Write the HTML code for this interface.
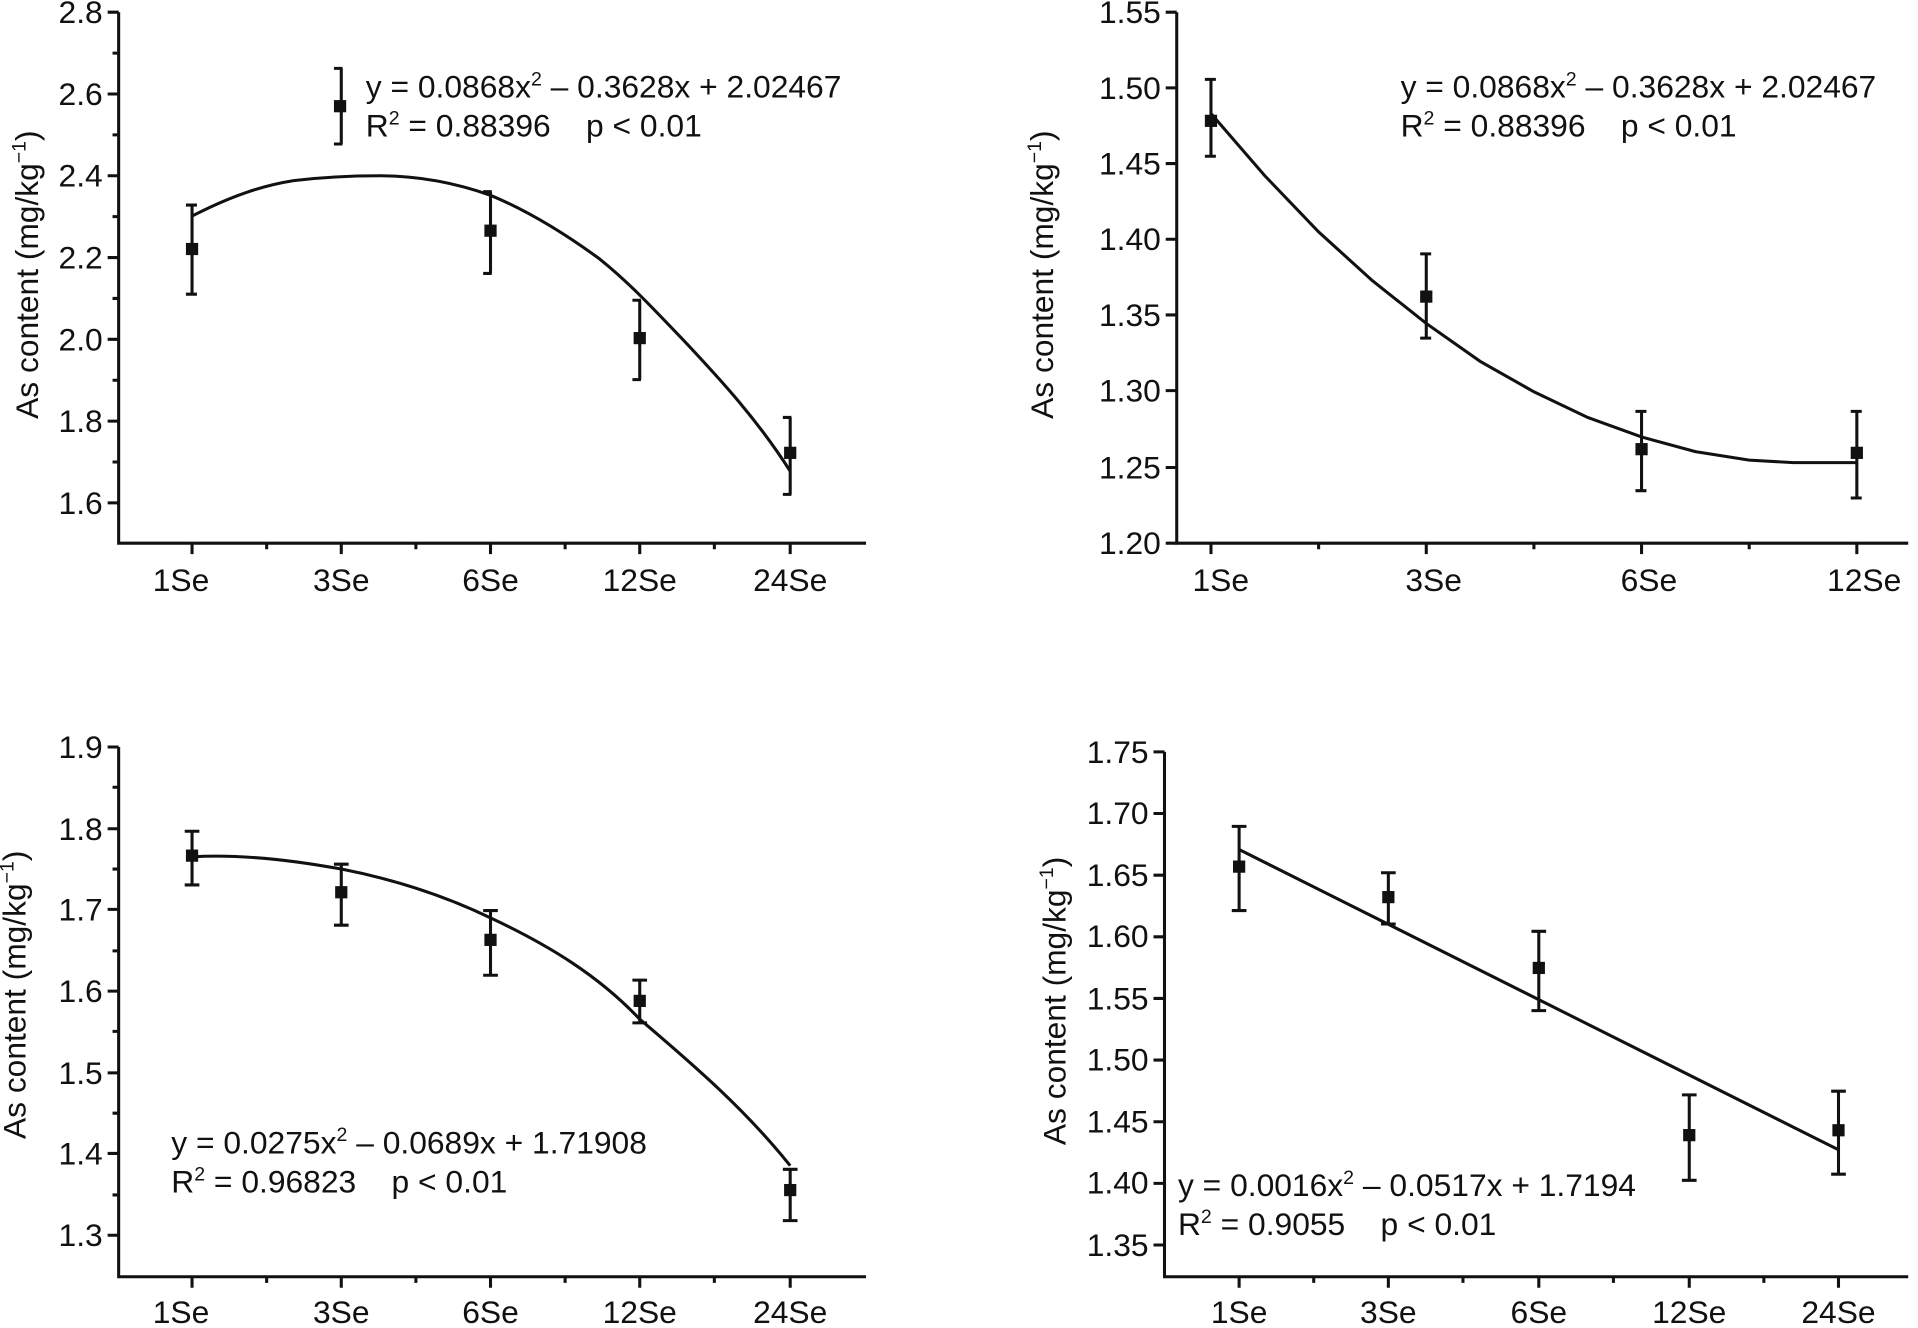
<!DOCTYPE html>
<html><head><meta charset="utf-8"><style>
html,body{margin:0;padding:0;background:#fff}
svg{display:block}
text{font-family:"Liberation Sans",Arial,sans-serif;font-size:26px;fill:#111;white-space:pre}
</style></head><body>
<svg width="1918" height="1328" viewBox="0 0 1568 1088" preserveAspectRatio="none" xmlns="http://www.w3.org/2000/svg" xml:space="preserve">
<g stroke="#111" stroke-width="2.5" fill="none">
<!-- Panel 1 -->
<path d="M97,10 V445 H708"/>
<path d="M97,10 h-9 M97,77 h-9 M97,144 h-9 M97,211 h-9 M97,278 h-9 M97,345 h-9 M97,412 h-9 M97,43.5 h-5 M97,110.5 h-5 M97,177.5 h-5 M97,244.5 h-5 M97,311.5 h-5 M97,378.5 h-5"/>
<path d="M157,445 v9 M279,445 v9 M401,445 v9 M523,445 v9 M646,445 v9 M218,445 v5 M340,445 v5 M462,445 v5 M584,445 v5"/>
<path d="M157,168 V241 M152,168 h9 M152,241 h9  M279,56 V118 M273,56 h7 M273,118 h7  M401,157 V224 M395,157 h7 M395,224 h7  M523,246 V311 M517,246 h7 M517,311 h7  M646,342 V405 M640,342 h7 M640,405 h7"/>
<path d="M157,177 C190,160 215,152 240,148 C265,145 290,144 310,144 C340,144 370,149 401,160 C430,172 460,190 490,212 C515,232 535,254 560,280 C590,312 620,345 646,386"/>
<!-- Panel 2 -->
<path d="M962,10 V445 H1560"/>
<path d="M962,10 h-9 M962,72 h-9 M962,134 h-9 M962,196 h-9 M962,258 h-9 M962,320 h-9 M962,383 h-9 M962,445 h-9"/>
<path d="M990,445 v9 M1166,445 v9 M1342,445 v9 M1518,445 v9 M1078,445 v5 M1254,445 v5 M1430,445 v5"/>
<path d="M990,65 V128 M985,65 h9 M985,128 h9  M1166,208 V277 M1161,208 h9 M1161,277 h9  M1342,337 V402 M1337,337 h9 M1337,402 h9  M1518,337 V408 M1513,337 h9 M1513,408 h9"/>
<path d="M990,93 L1034,144 L1078,190 L1122,230 L1166,265 L1210,296 L1254,321 L1298,342 L1342,358 L1386,370 L1430,377 L1466,379 L1518,379"/>
<!-- Panel 3 -->
<path d="M97,612 V1046 H708"/>
<path d="M97,612 h-9 M97,679 h-9 M97,745 h-9 M97,812 h-9 M97,879 h-9 M97,945 h-9 M97,1012 h-9 M97,645 h-5 M97,712 h-5 M97,779 h-5 M97,845 h-5 M97,912 h-5 M97,979 h-5"/>
<path d="M157,1046 v9 M279,1046 v9 M401,1046 v9 M523,1046 v9 M646,1046 v9 M218,1046 v5 M340,1046 v5 M462,1046 v5 M584,1046 v5"/>
<path d="M157,681 V725 M151,681 h12 M151,725 h12  M279,708 V758 M273,708 h12 M273,758 h12  M401,746 V799 M395,746 h12 M395,799 h12  M523,803 V838 M517,803 h12 M517,838 h12  M646,958 V1000 M640,958 h12 M640,1000 h12"/>
<path d="M157,702 C190,700 230,703 279,712 C330,722 370,737 401,752 C450,775 490,800 523,835 C570,875 610,910 646,955"/>
<!-- Panel 4 -->
<path d="M952,616 V1046 H1560"/>
<path d="M952,616 h-9 M952,666.5 h-9 M952,717 h-9 M952,767.5 h-9 M952,818 h-9 M952,868.5 h-9 M952,919 h-9 M952,969.5 h-9 M952,1020 h-9"/>
<path d="M1013,1046 v9 M1135,1046 v9 M1258,1046 v9 M1381,1046 v9 M1503,1046 v9 M1074,1046 v5 M1196,1046 v5 M1319,1046 v5 M1442,1046 v5"/>
<path d="M1013,677 V746 M1007,677 h12 M1007,746 h12  M1135,715 V757 M1129,715 h12 M1129,757 h12  M1258,763 V828 M1252,763 h12 M1252,828 h12  M1381,897 V967 M1375,897 h12 M1375,967 h12  M1503,894 V962 M1497,894 h12 M1497,962 h12"/>
<path d="M1013,696 L1503,942"/>
</g>
<g fill="#111">
<rect x="152" y="199" width="10" height="10"/><rect x="273" y="82" width="10" height="10"/><rect x="396" y="184" width="10" height="10"/><rect x="518" y="272" width="10" height="10"/><rect x="641" y="366" width="10" height="10"/>
<rect x="985" y="94" width="10" height="10"/><rect x="1161" y="238" width="10" height="10"/><rect x="1337" y="363" width="10" height="10"/><rect x="1513" y="366" width="10" height="10"/>
<rect x="152" y="696" width="10" height="10"/><rect x="274" y="726" width="10" height="10"/><rect x="396" y="765" width="10" height="10"/><rect x="518" y="815" width="10" height="10"/><rect x="641" y="970" width="10" height="10"/>
<rect x="1008" y="705" width="10" height="10"/><rect x="1130" y="730" width="10" height="10"/><rect x="1253" y="788" width="10" height="10"/><rect x="1376" y="925" width="10" height="10"/><rect x="1498" y="921" width="10" height="10"/>
</g>
<g text-anchor="end">
<text x="84" y="19">2.8</text><text x="84" y="86">2.6</text><text x="84" y="153">2.4</text><text x="84" y="220">2.2</text><text x="84" y="287">2.0</text><text x="84" y="354">1.8</text><text x="84" y="421">1.6</text>
<text x="949" y="19">1.55</text><text x="949" y="81">1.50</text><text x="949" y="143">1.45</text><text x="949" y="205">1.40</text><text x="949" y="267">1.35</text><text x="949" y="329">1.30</text><text x="949" y="392">1.25</text><text x="949" y="454">1.20</text>
<text x="84" y="621">1.9</text><text x="84" y="688">1.8</text><text x="84" y="754">1.7</text><text x="84" y="821">1.6</text><text x="84" y="888">1.5</text><text x="84" y="954">1.4</text><text x="84" y="1021">1.3</text>
<text x="939" y="625">1.75</text><text x="939" y="675">1.70</text><text x="939" y="726">1.65</text><text x="939" y="776">1.60</text><text x="939" y="827">1.55</text><text x="939" y="877">1.50</text><text x="939" y="928">1.45</text><text x="939" y="978">1.40</text><text x="939" y="1029">1.35</text>
</g>
<g text-anchor="middle">
<text x="148" y="484">1Se</text><text x="279" y="484">3Se</text><text x="401" y="484">6Se</text><text x="523" y="484">12Se</text><text x="646" y="484">24Se</text>
<text x="998" y="484">1Se</text><text x="1172" y="484">3Se</text><text x="1348" y="484">6Se</text><text x="1524" y="484">12Se</text>
<text x="148" y="1084">1Se</text><text x="279" y="1084">3Se</text><text x="401" y="1084">6Se</text><text x="523" y="1084">12Se</text><text x="646" y="1084">24Se</text>
<text x="1013" y="1084">1Se</text><text x="1135" y="1084">3Se</text><text x="1258" y="1084">6Se</text><text x="1381" y="1084">12Se</text><text x="1503" y="1084">24Se</text>
<text transform="translate(31,225) rotate(-90)">As content (mg/kg<tspan font-size="16" dy="-10">−1</tspan><tspan dy="10">)</tspan></text>
<text transform="translate(861,225) rotate(-90)">As content (mg/kg<tspan font-size="16" dy="-10">−1</tspan><tspan dy="10">)</tspan></text>
<text transform="translate(21,815) rotate(-90)">As content (mg/kg<tspan font-size="16" dy="-10">−1</tspan><tspan dy="10">)</tspan></text>
<text transform="translate(871,820) rotate(-90)">As content (mg/kg<tspan font-size="16" dy="-10">−1</tspan><tspan dy="10">)</tspan></text>
</g>
<text x="299" y="80">y = 0.0868x<tspan font-size="16" dy="-10">2</tspan><tspan dy="10"> – 0.3628x + 2.02467</tspan></text>
<text x="299" y="112">R<tspan font-size="16" dy="-10">2</tspan><tspan dy="10"> = 0.88396    p &lt; 0.01</tspan></text>
<text x="1145" y="80">y = 0.0868x<tspan font-size="16" dy="-10">2</tspan><tspan dy="10"> – 0.3628x + 2.02467</tspan></text>
<text x="1145" y="112">R<tspan font-size="16" dy="-10">2</tspan><tspan dy="10"> = 0.88396    p &lt; 0.01</tspan></text>
<text x="140" y="945">y = 0.0275x<tspan font-size="16" dy="-10">2</tspan><tspan dy="10"> – 0.0689x + 1.71908</tspan></text>
<text x="140" y="977">R<tspan font-size="16" dy="-10">2</tspan><tspan dy="10"> = 0.96823    p &lt; 0.01</tspan></text>
<text x="963" y="980">y = 0.0016x<tspan font-size="16" dy="-10">2</tspan><tspan dy="10"> – 0.0517x + 1.7194</tspan></text>
<text x="963" y="1012">R<tspan font-size="16" dy="-10">2</tspan><tspan dy="10"> = 0.9055    p &lt; 0.01</tspan></text>
</svg>
</body></html>
